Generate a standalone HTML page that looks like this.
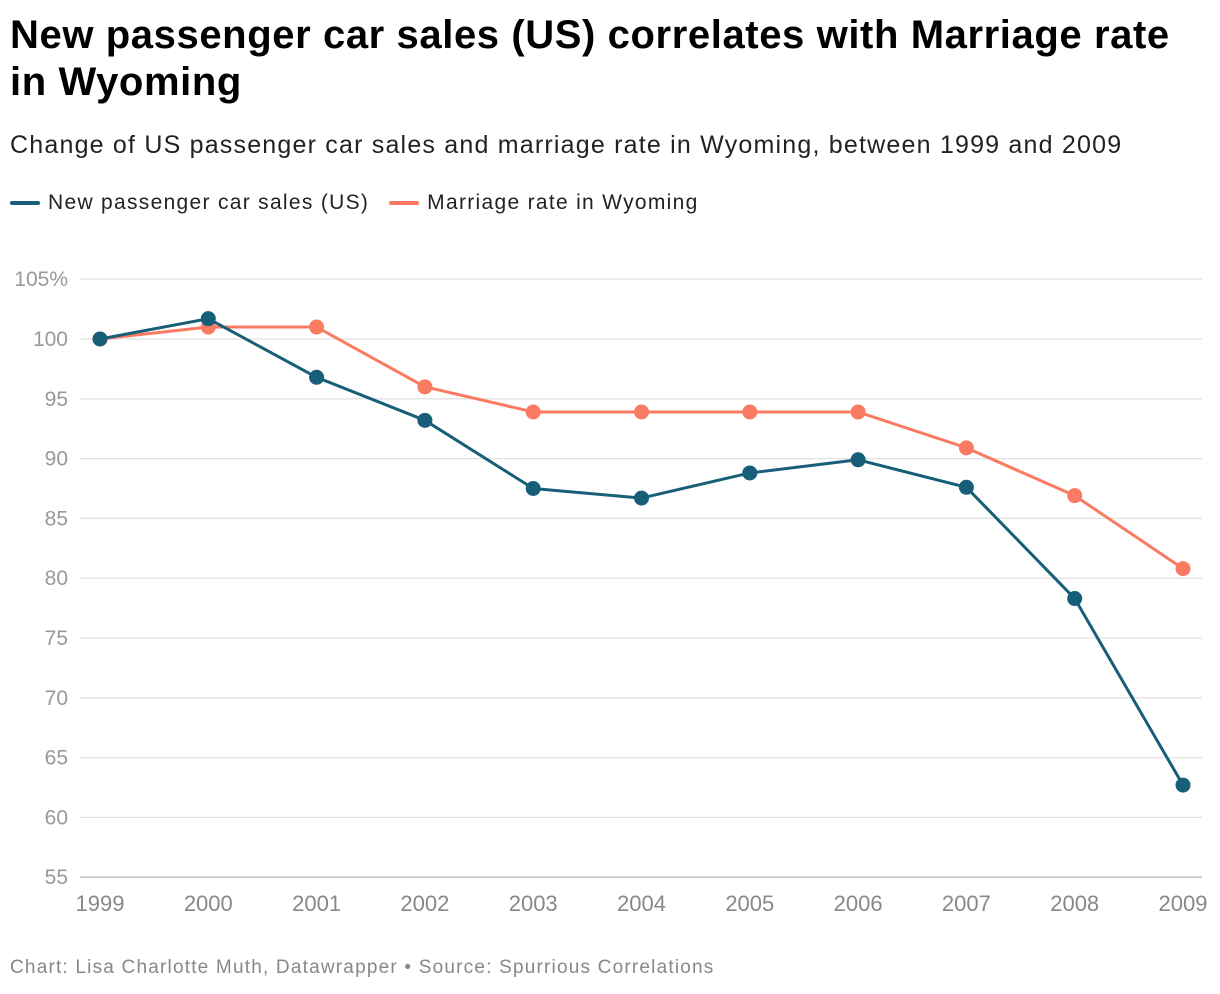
<!DOCTYPE html>
<html><head><meta charset="utf-8"><style>
body{margin:0;background:#fff;width:1220px;height:994px;overflow:hidden;font-family:"Liberation Sans",sans-serif;}
#title{position:absolute;left:10px;top:12px;font-size:40px;font-weight:bold;line-height:47px;color:#000;width:1205px;letter-spacing:0.6px}
#sub{position:absolute;left:10px;top:131px;font-size:25px;color:#222;letter-spacing:1.2px;white-space:nowrap}
#legend{position:absolute;left:10px;top:191px;font-size:21px;color:#222;display:flex;gap:20px;letter-spacing:1.3px;white-space:nowrap}
.le{display:flex;align-items:center}
.sw{width:30px;height:4px;border-radius:2px;margin-right:8px}
#foot{position:absolute;left:10px;top:957px;font-size:19px;color:#888;letter-spacing:1.2px;white-space:nowrap}
svg{position:absolute;left:0;top:0}
</style></head><body>
<div id="title">New passenger car sales (US) correlates with Marriage rate in Wyoming</div>
<div id="sub">Change of US passenger car sales and marriage rate in Wyoming, between 1999 and 2009</div>
<div id="legend">
<div class="le"><span class="sw" style="background:#175e78"></span>New passenger car sales (US)</div>
<div class="le"><span class="sw" style="background:#fa7a62"></span>Marriage rate in Wyoming</div>
</div>
<svg id="chart" width="1220" height="994"></svg>
<div id="foot">Chart: Lisa Charlotte Muth, Datawrapper • Source: Spurrious Correlations</div>
<script>
const years=[1999,2000,2001,2002,2003,2004,2005,2006,2007,2008,2009];
const carSales=[100,101.7,96.8,93.2,87.5,86.7,88.8,89.9,87.6,78.3,62.7];
const marriage=[100,101,101,96,93.9,93.9,93.9,93.9,90.9,86.9,80.8];
const yTicks=[55,60,65,70,75,80,85,90,95,100,105];
const svg=document.getElementById('chart');
const NS='http://www.w3.org/2000/svg';
const x=i=>100+i*108.3;
const y=v=>339+(100-v)*11.96;
function mk(t,a){const e=document.createElementNS(NS,t);for(const k in a)e.setAttribute(k,a[k]);svg.appendChild(e);return e;}
yTicks.forEach(v=>{
 const l=mk('line',{x1:80,x2:1202,y1:y(v),y2:y(v),stroke:v===55?'#bbb':'#e2e2e2','stroke-width':1.3});
 
 
 const t=mk('text',{x:68,y:y(v)+7,'font-size':21,fill:'#999','text-anchor':'end','font-family':'Liberation Sans, sans-serif'});
 t.textContent=v===105?'105%':v;
 
 
});
years.forEach((yr,i)=>{
 const t=mk('text',{x:x(i),y:911,'font-size':22,fill:'#888','text-anchor':'middle','font-family':'Liberation Sans, sans-serif'});
 t.textContent=yr;
 
 
});
function series(vals,col,name){
 const p=mk('polyline',{points:vals.map((v,i)=>x(i)+','+y(v)).join(' '),fill:'none',stroke:col,'stroke-width':3,'stroke-linejoin':'round'});
 
 
 vals.forEach((v,i)=>{
  const c=mk('circle',{cx:x(i),cy:y(v),r:7.5,fill:col});
  
  
 });
}
series(marriage,'#fa7a62','marriage-rate');
series(carSales,'#175e78','car-sales');
</script>
</body></html>
